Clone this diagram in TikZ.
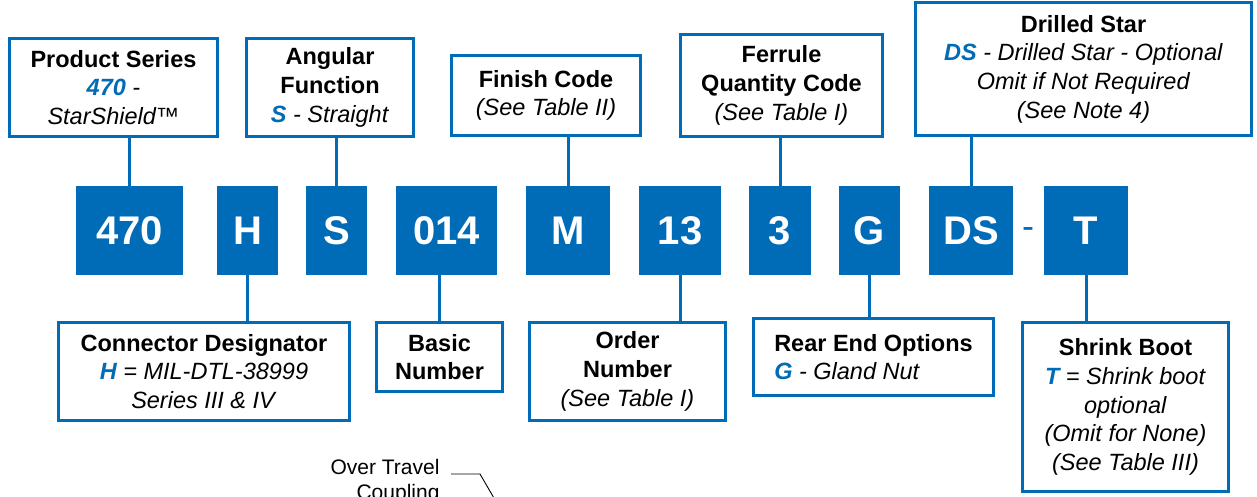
\documentclass[tikz,border=0pt]{standalone}
\usepackage{fontspec}
\setmainfont{Liberation Sans}
\definecolor{codeblue}{RGB}{0,107,182}
\newcommand{\sel}[1]{{\color{codeblue}\bfseries\itshape #1}}

\begin{document}
\begin{tikzpicture}
        [x=1pt, y=-1pt,
        codebox/.style={fill=codeblue, text=white, inner sep=0pt, minimum height=89, font=\fontsize{40}{48}\selectfont\bfseries},
        infobox/.style={draw=codeblue, line width=3pt, fill=white, inner sep=0pt, align=center, font=\fontsize{23.5}{28.7}\selectfont},
        conn/.style={codeblue, line width=3pt},
        note/.style={anchor=base east, font=\fontsize{21}{25}\selectfont}]

        \useasboundingbox (0,0) rectangle (1257,496);

        % Part number code boxes
        \node[codebox, minimum width=107] (c470) at (129.5,230.5) {470};
        \node[codebox, minimum width=61] (cH) at (247.5,230.5) {H};
        \node[codebox, minimum width=61] (cS) at (336.5,230.5) {S};
        \node[codebox, minimum width=101] (c014) at (446.5,230.5) {014};
        \node[codebox, minimum width=84] (cM) at (568,230.5) {M};
        \node[codebox, minimum width=82] (c13) at (680,230.5) {13};
        \node[codebox, minimum width=62] (c3) at (780,230.5) {3};
        \node[codebox, minimum width=61] (cG) at (869.5,230.5) {G};
        \node[codebox, minimum width=84] (cDS) at (971,230.5) {DS};
        \node[text=codeblue, inner sep=0pt, font=\fontsize{36}{40}\selectfont] (dash) at (1028,233) {-};
        \node[codebox, minimum width=84] (cT) at (1086,230.5) {T};

        % Description boxes above the code
        \node[infobox, minimum width=208, minimum height=98] (ps) at (113.5,87.5)
            {\textbf{Product Series}\\ \sel{470} \textit{-}\\ \textit{StarShield™}};
        \node[infobox, minimum width=167, minimum height=98] (af) at (330,87.5)
            {\textbf{Angular}\\ \textbf{Function}\\ \sel{S} \textit{- Straight}};
        \node[infobox, minimum width=189, minimum height=80] (fc) at (546,95.5)
            {\textbf{Finish Code}\\ \textit{(See Table II)}};
        \node[infobox, minimum width=202, minimum height=102] (fq) at (781.5,85.5)
            {\textbf{Ferrule}\\ \textbf{Quantity Code}\\ \textit{(See Table I)}};
        \node[infobox, minimum width=336, minimum height=133] (dstar) at (1083.5,69)
            {\textbf{Drilled Star}\\ \sel{DS} \textit{- Drilled Star - Optional}\\ \textit{Omit if Not Required}\\ \textit{(See Note 4)}};

        % Description boxes below the code
        \node[infobox, minimum width=291, minimum height=98] (cd) at (204,371.5)
            {\textbf{Connector Designator}\\ \sel{H} \textit{= MIL-DTL-38999}\hspace*{28pt}\\ \textit{Series III \& IV}};
        \node[infobox, minimum width=126, minimum height=69] (bn) at (439.5,357)
            {\textbf{Basic}\\ \textbf{Number}};
        \node[infobox, minimum width=196, minimum height=98] (on) at (627.5,371.5)
            {\textbf{Order}\\ \textbf{Number}\\ \textit{(See Table I)}};
        \node[infobox, align=left, minimum width=240, minimum height=77] (re) at (873.5,357)
            {\textbf{Rear End Options}\\ \sel{G} \textit{- Gland Nut}};
        \node[infobox, minimum width=206, minimum height=169] (sb) at (1125.5,407)
            {\textbf{Shrink Boot}\\ \sel{T} \textit{= Shrink boot}\\ \textit{optional}\\ \textit{(Omit for None)}\\ \textit{(See Table III)}};

        % connectors to the top boxes
        \draw[conn] (c470.north) -- (c470.north |- ps.south);
        \draw[conn] (cS.north) -- (cS.north |- af.south);
        \draw[conn] (cM.north) -- (cM.north |- fc.south);
        \draw[conn] (c3.north) -- (c3.north |- fq.south);
        \draw[conn] (cDS.north) -- (cDS.north |- dstar.south);

        % connectors to the bottom boxes
        \draw[conn] (cH.south) -- (cH.south |- cd.north);
        \draw[conn] (bn.north) -- (bn.north |- c014.south);
        \draw[conn] (c13.south) -- (c13.south |- on.north);
        \draw[conn] (cG.south) -- (cG.south |- re.north);
        \draw[conn] (cT.south) -- (cT.south |- sb.north);

        % leader of the drawing below
        \node[note] (ot1) at (443,474) {Over Travel};
        \node[note] (ot2) at (443,499) {Coupling};
        \coordinate (otbend) at (480,474);
        \coordinate (otend) at (498,505);
        \draw[line width=0.9pt] ([xshift=8]ot1.base east) -- (otbend) -- (otend);

    \end{tikzpicture}
\end{document}
